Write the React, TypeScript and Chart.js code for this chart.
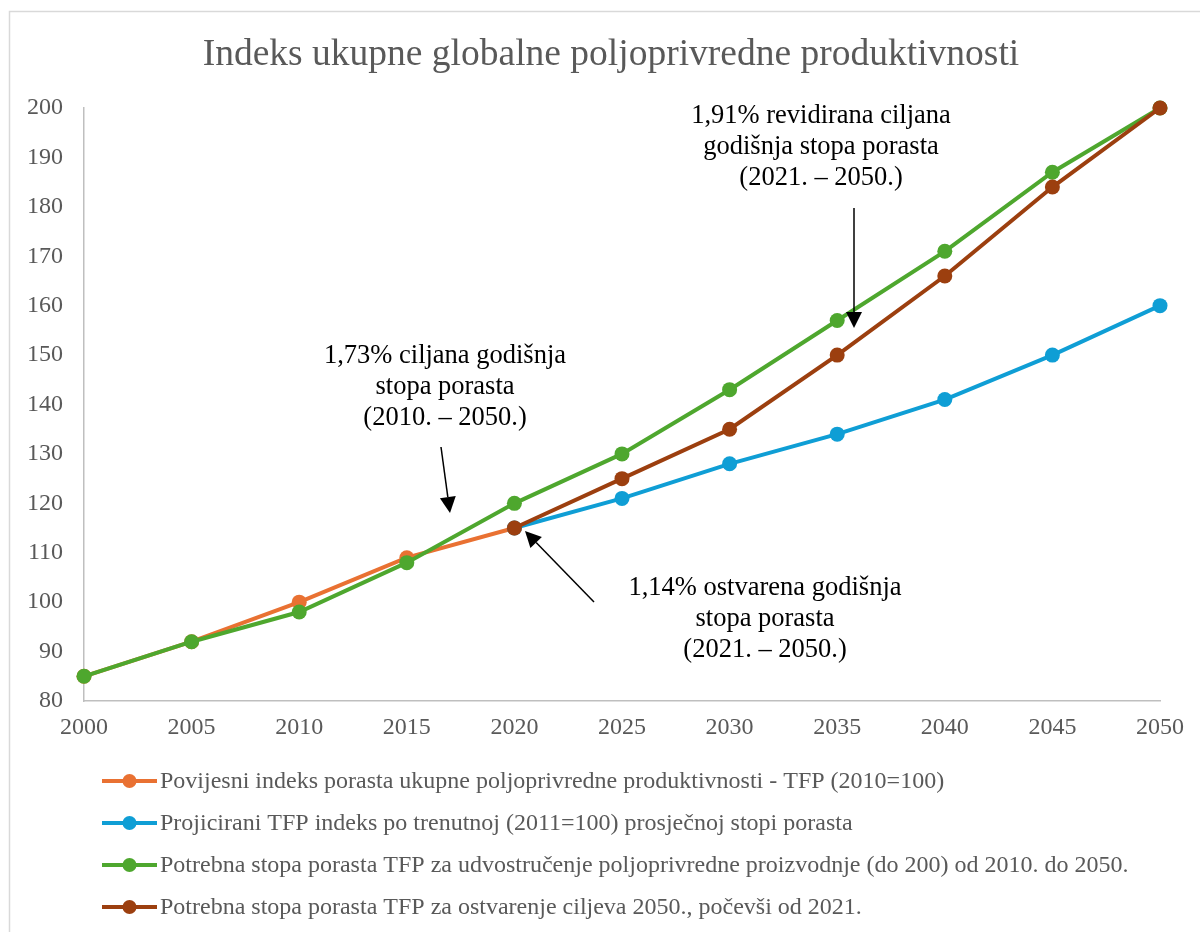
import React, { useEffect, useRef } from "react";
import { Chart, registerables } from "chart.js";

Chart.register(...registerables);

const years = ["2000", "2005", "2010", "2015", "2020", "2025", "2030", "2035", "2040", "2045", "2050"];
const historical = [85, 92, 100, 109, 115, null, null, null, null, null, null];
const projected = [null, null, null, null, 115, 121, 128, 134, 141, 150, 160];
const doubling = [85, 92, 98, 108, 120, 130, 143, 157, 171, 187, 200];
const goals2050 = [null, null, null, null, 115, 125, 135, 150, 166, 184, 200];

const seriesNames = [
  "Povijesni indeks porasta ukupne poljoprivredne produktivnosti - TFP (2010=100)",
  "Projicirani TFP indeks po trenutnoj (2011=100) prosječnoj stopi porasta",
  "Potrebna stopa porasta TFP za udvostručenje poljoprivredne proizvodnje (do 200) od 2010. do 2050.",
  "Potrebna stopa porasta TFP za ostvarenje ciljeva 2050., počevši od 2021.",
];
const seriesColors = ["#E97132", "#0F9ED5", "#4EA72E", "#9C3F0F"];

const title = "Indeks ukupne globalne poljoprivredne produktivnosti";
const annotations = [
  { lines: ["1,73% ciljana godišnja", "stopa porasta", "(2010. – 2050.)"], x: 445, y: 356, tail: [441, 447], tip: [450, 513] },
  { lines: ["1,91% revidirana ciljana", "godišnja stopa porasta", "(2021. – 2050.)"], x: 821, y: 116, tail: [854, 208], tip: [854, 328] },
  { lines: ["1,14% ostvarena godišnja", "stopa porasta", "(2021. – 2050.)"], x: 765, y: 588, tail: [594, 602], tip: [525, 531] },
];

const FONT = "'Liberation Serif', 'Times New Roman', serif";
const GRAY = "#595959";

function drawArrow(ctx: CanvasRenderingContext2D, tail: number[], tip: number[]) {
  const [x1, y1] = tail;
  const [x2, y2] = tip;
  const ang = Math.atan2(y2 - y1, x2 - x1);
  const headLen = 16;
  const headW = 8;
  const bx = x2 - headLen * Math.cos(ang);
  const by = y2 - headLen * Math.sin(ang);
  ctx.save();
  ctx.strokeStyle = "#000";
  ctx.fillStyle = "#000";
  ctx.lineWidth = 1.5;
  ctx.beginPath();
  ctx.moveTo(x1, y1);
  ctx.lineTo(bx, by);
  ctx.stroke();
  ctx.beginPath();
  ctx.moveTo(x2, y2);
  ctx.lineTo(bx + headW * Math.sin(ang), by - headW * Math.cos(ang));
  ctx.lineTo(bx - headW * Math.sin(ang), by + headW * Math.cos(ang));
  ctx.closePath();
  ctx.fill();
  ctx.restore();
}

const decorPlugin = {
  id: "decor",
  beforeDraw(chart: any) {
    const ctx = chart.ctx as CanvasRenderingContext2D;
    ctx.save();
    ctx.fillStyle = "#fff";
    ctx.fillRect(0, 0, chart.width, chart.height);
    ctx.strokeStyle = "#D9D9D9";
    ctx.lineWidth = 1.5;
    ctx.strokeRect(9.5, 11.5, chart.width + 20, chart.height + 20);
    // title
    ctx.fillStyle = GRAY;
    ctx.font = `37.5px ${FONT}`;
    ctx.textAlign = "center";
    ctx.textBaseline = "middle";
    ctx.fillText(title, 611, 55);
    ctx.restore();
  },
  afterDraw(chart: any) {
    const ctx = chart.ctx as CanvasRenderingContext2D;
    ctx.save();
    // annotations
    ctx.fillStyle = "#000";
    ctx.font = `26.5px ${FONT}`;
    ctx.textAlign = "center";
    ctx.textBaseline = "middle";
    annotations.forEach((a) => {
      a.lines.forEach((l, i) => ctx.fillText(l, a.x, a.y + i * 31));
      drawArrow(ctx, a.tail, a.tip);
    });
    // legend
    ctx.textAlign = "left";
    ctx.font = `24px ${FONT}`;
    seriesNames.forEach((name, i) => {
      const y = 781 + i * 42;
      ctx.strokeStyle = seriesColors[i];
      ctx.lineWidth = 4;
      ctx.beginPath();
      ctx.moveTo(102, y);
      ctx.lineTo(157, y);
      ctx.stroke();
      ctx.fillStyle = seriesColors[i];
      ctx.beginPath();
      ctx.arc(129.5, y, 7, 0, Math.PI * 2);
      ctx.fill();
      ctx.fillStyle = GRAY;
      ctx.fillText(name, 160, y + 1);
    });
    ctx.restore();
  },
};

export default function App() {
  const ref = useRef<HTMLCanvasElement>(null);
  useEffect(() => {
    if (!ref.current) return;
    const datasets = [historical, projected, doubling, goals2050].map((d, i) => ({
      label: seriesNames[i],
      data: d,
      borderColor: seriesColors[i],
      backgroundColor: seriesColors[i],
      borderWidth: 4,
      pointRadius: 7.5,
      pointHoverRadius: 7.5,
      pointBorderWidth: 0,
      spanGaps: false,
      tension: 0,
      clip: false as any,
      order: 3 - i,
    }));
    const chart = new Chart(ref.current, {
      type: "line",
      data: { labels: years, datasets },
      options: {
        responsive: false,
        animation: false,
        layout: { padding: { top: 108, right: 40, bottom: 191, left: 0 } },
        plugins: { legend: { display: false }, title: { display: false }, tooltip: { enabled: false } },
        scales: {
          x: {
            offset: false,
            grid: { display: false, drawTicks: false },
            border: { display: true, color: "#BFBFBF", width: 1.5 },
            ticks: { color: GRAY, font: { family: FONT, size: 24 }, padding: 12, maxRotation: 0, autoSkip: false },
            afterFit: (s: any) => { s.height = 40; },
          },
          y: {
            min: 80,
            max: 200,
            grid: { display: false, drawTicks: false },
            border: { display: true, color: "#BFBFBF", width: 1.5 },
            ticks: { stepSize: 10, color: GRAY, font: { family: FONT, size: 24 }, padding: 21 },
            afterFit: (s: any) => { s.width = 84; },
          },
        },
      },
      plugins: [decorPlugin],
    });
    return () => chart.destroy();
  }, []);
  return (
    <div style={{ position: "fixed", left: 0, top: 0, width: 1200, height: 932, background: "#fff" }}>
      <canvas ref={ref} width={1200} height={932} style={{ display: "block" }} />
    </div>
  );
}
